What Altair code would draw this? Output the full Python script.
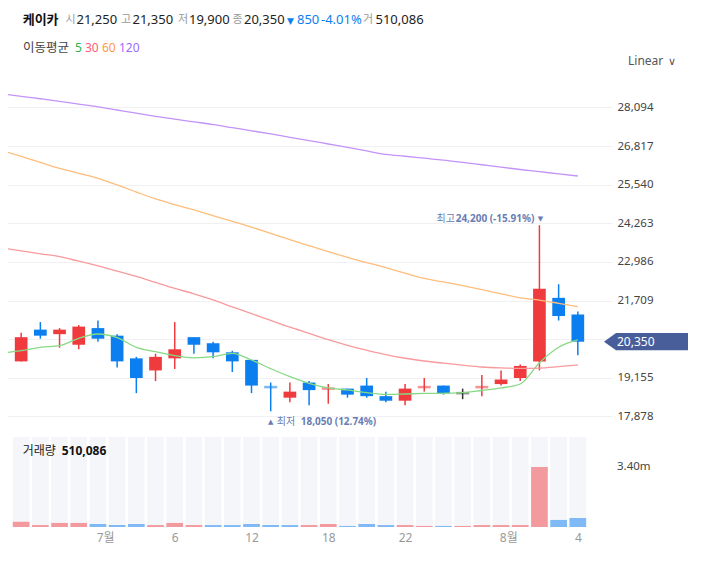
import altair as alt
import pandas as pd

# ---------------- data ----------------
name = "케이카"
dates = ["2022-06-24", "2022-06-27", "2022-06-28", "2022-06-29", "2022-06-30", "2022-07-01",
         "2022-07-04", "2022-07-05", "2022-07-06", "2022-07-07", "2022-07-08", "2022-07-11",
         "2022-07-12", "2022-07-13", "2022-07-14", "2022-07-15", "2022-07-18", "2022-07-19",
         "2022-07-20", "2022-07-21", "2022-07-22", "2022-07-25", "2022-07-26", "2022-07-27",
         "2022-07-28", "2022-07-29", "2022-08-01", "2022-08-02", "2022-08-03", "2022-08-04"]
opens = [19700, 20750, 20600, 20250, 20800, 20550, 19800, 19400, 19800, 20500,
         20300, 20000, 19750, 18850, 18500, 19000, 18800, 18800, 18900, 18550,
         18400, 18850, 18900, 18650, 18850, 18950, 19150, 19700, 21800, 21250]
highs = [20650, 21000, 20800, 20900, 21050, 20600, 19850, 19950, 21000, 20500,
         20350, 20050, 19750, 19000, 19000, 19050, 18950, 18800, 19150, 18700,
         18950, 19150, 18900, 18800, 19250, 19400, 19600, 24200, 22250, 21350]
lows = [19700, 20450, 20150, 20100, 20350, 19500, 18650, 19050, 19450, 19950,
        19800, 19350, 18650, 18050, 18350, 18250, 18300, 18500, 18500, 18350,
        18250, 18700, 18600, 18450, 18550, 18900, 19050, 19400, 21050, 19900]
closes = [20500, 20550, 20750, 20850, 20450, 19700, 19150, 19850, 20100, 20250,
          20000, 19700, 18900, 18850, 18700, 18750, 18800, 18600, 18550, 18400,
          18800, 18850, 18650, 18650, 18850, 19100, 19550, 22100, 21200, 20350]
volumes = [300000, 110000, 230000, 230000, 170000, 110000, 170000, 110000, 230000, 110000,
           110000, 110000, 170000, 110000, 110000, 110000, 170000, 60000, 170000, 110000,
           110000, 60000, 60000, 60000, 110000, 110000, 110000, 3400000, 400000, 510086]
vol_dir = ["up", "up", "up", "up", "down", "down", "down", "up", "up", "up",
           "down", "down", "down", "down", "down", "up", "up", "down", "down", "down",
           "up", "up", "down", "up", "up", "up", "up", "up", "down", "down"]

# moving averages, first value is the day before the visible window
ma_start_date = "2022-06-23"
ma5 = [19976, 20054, 20166, 20219, 20464, 20606, 20484, 20166, 20021, 19889, 19819,
       19855, 19968, 19746, 19459, 19194, 18976, 18821, 18755, 18665, 18606,
       18622, 18639, 18645, 18665, 18738, 18821, 18953, 19654, 20166, 20408]
ma30 = [23447, 23353, 23257, 23161, 23013, 22861, 22682, 22507, 22308, 22110, 21935,
        21730, 21502, 21280, 21055, 20831, 20626, 20417, 20232, 20070, 19922,
        19803, 19713, 19641, 19574, 19515, 19485, 19472, 19479, 19525, 19581]
ma60 = [26669, 26474, 26276, 26081, 25919, 25750, 25532, 25297, 25069, 24884, 24705,
        24517, 24328, 24137, 23932, 23723, 23525, 23330, 23138, 22966, 22798,
        22619, 22444, 22325, 22203, 22074, 21935, 21803, 21727, 21621, 21508]
ma120 = [28546, 28461, 28382, 28299, 28206, 28117, 28011, 27906, 27803, 27707, 27618,
         27529, 27426, 27324, 27221, 27109, 27000, 26887, 26775, 26656, 26543,
         26481, 26418, 26355, 26279, 26200, 26120, 26044, 25972, 25899, 25829]
ma_names = ["5", "30", "60", "120"]

price_ticks = [17878, 19155, 20432, 21709, 22986, 24263, 25540, 26817, 28094]
vol_tick_value = 3400000
vol_tick_label = "3.40m"
tick_dates = ["2022-07-01", "2022-07-06", "2022-07-12", "2022-07-18", "2022-07-22", "2022-08-01", "2022-08-04"]
tick_labels = ["7월", "6", "12", "18", "22", "8월", "4"]

# ---------------- style ----------------
FONT = "Noto Sans, Noto Sans CJK KR, sans-serif"
KFONT = "Noto Sans CJK KR, sans-serif"
SYM = "DejaVu Sans, sans-serif"
RED, BLUE, BLACK = "#ef3a3e", "#0b7ef0", "#333333"
VRED, VBLUE = "#f29a9d", "#80baf6"
MA_LINE = ["#88d984", "#f89a9d", "#ffbd7c", "#c493f7"]
MA_LEG = ["#2bb34a", "#ff5c7c", "#ff9a4a", "#9b6bff"]
ANN = "#6a7db3"
W, H = 604, 519

n = len(dates)


def direction(i):
    if closes[i] > opens[i]:
        return "up"
    if closes[i] < opens[i]:
        return "down"
    if i == 0 or closes[i] == closes[i - 1]:
        return "flat"
    return "up" if closes[i] > closes[i - 1] else "down"


cmap = {"up": RED, "down": BLUE, "flat": BLACK}
df = pd.DataFrame({"i": list(range(n)), "date": dates, "open": opens, "high": highs,
                   "low": lows, "close": closes, "vol": volumes})
df["col"] = [cmap[direction(i)] for i in range(n)]
df["vcol"] = [VRED if d == "up" else VBLUE for d in vol_dir]
df["btop"] = df[["open", "close"]].max(axis=1)
df["bbot"] = df[["open", "close"]].min(axis=1)
body_df = df[df.open != df.close]
doji_df = df[df.open == df.close]

ma_rows = []
for nm, vals, c in zip(ma_names, [ma5, ma30, ma60, ma120], MA_LINE):
    for k, v in enumerate(vals):
        ma_rows.append({"ma": nm, "i": k - 1, "v": v, "col": c})
ma_df = pd.DataFrame(ma_rows)

tick_idx = [dates.index(d) for d in tick_dates]
label_expr = "".join(f"datum.value == {ix} ? '{lb}' : " for ix, lb in zip(tick_idx, tick_labels)) + "''"
month_test = " || ".join(f"datum.value == {ix}" for ix, lb in zip(tick_idx, tick_labels) if "월" in lb)

xscale = alt.Scale(domain=[-0.425, 30.52], nice=False, zero=False)
pscale = alt.Scale(domain=[17448, 29300], range=[421.5, 63], nice=False, zero=False)
vscale = alt.Scale(domain=[0, 5100000], range=[519, 429], nice=False)

xaxis = alt.Axis(values=tick_idx, labelExpr=label_expr, grid=False, ticks=False, domain=False,
                 labelPadding=5, labelFontSize=12, labelColor="#999999", labelFont=FONT,
                 labelFlush=False, labelOverlap=False, title=None,
                 labelAlign={"condition": {"test": month_test, "value": "right"}, "value": "center"},
                 labelOffset={"condition": {"test": month_test, "value": -3}, "value": 0})
paxis = alt.Axis(orient="right", values=price_ticks, grid=True, gridColor="#f1f1f3", gridWidth=1,
                 ticks=False, domain=False, labelPadding=5, labelFontSize=11.5, labelColor="#444444",
                 labelFont=FONT, labelFlush=False, labelOverlap=False, title=None,
                 labelExpr="datum.value == 20432 ? '' : format(datum.value, ',')")


def X():
    return alt.X("i:Q", scale=xscale, axis=xaxis)


def PY(f):
    return alt.Y(f, scale=pscale, axis=paxis)


# ---------------- price panel ----------------
wicks = alt.Chart(df).mark_rule(strokeWidth=1.5).encode(
    x=X(), y=PY("low:Q"), y2="high:Q", color=alt.Color("col:N", scale=None))
bodies = alt.Chart(body_df).mark_bar(orient="vertical", size=12.7).encode(
    x=X(), y=PY("btop:Q"), y2="bbot:Q", color=alt.Color("col:N", scale=None))
dojis = alt.Chart(doji_df).mark_tick(orient="horizontal", size=13, thickness=2.5, opacity=0.55).encode(
    x=X(), y=PY("close:Q"), color=alt.Color("col:N", scale=None))
lines = alt.Chart(ma_df).mark_line(strokeWidth=1.3, clip=True, interpolate="monotone").encode(
    x=X(), y=PY("v:Q"), color=alt.Color("col:N", scale=None), detail="ma:N")

imax = highs.index(max(highs))
imin = lows.index(min(lows))
last = closes[-1]
hi_df = pd.DataFrame({"i": [imax], "p": [highs[imax]],
                      "t": [f"{highs[imax]:,} ({(last / highs[imax] - 1) * 100:.2f}%)"],
                      "t0": ["최고"], "s": ["▼"]})
lo_df = pd.DataFrame({"i": [imin], "p": [lows[imin]],
                      "t": [f"{lows[imin]:,} ({(last / lows[imin] - 1) * 100:.2f}%)"],
                      "t0": ["최저"], "s": ["▲"]})


def ann(d, field, align, dx, dy, size=10, weight="normal", font=FONT):
    return alt.Chart(d).mark_text(align=align, baseline="middle", dx=dx, dy=dy, fontSize=size,
                                  fontWeight=weight, color=ANN, font=font).encode(
        x=X(), y=PY("p:Q"), text=f"{field}:N")


hi_txt = ann(hi_df, "t", "right", -5, -6, weight="bold")
hi_txt0 = ann(hi_df, "t0", "left", -103, -6, font=KFONT)
hi_sym = ann(hi_df, "s", "center", 1, -6, size=7, font=SYM)
lo_sym = ann(lo_df, "s", "center", 0, 10.5, size=7, font=SYM)
lo_txt0 = ann(lo_df, "t0", "left", 6, 10.5, font=KFONT)
lo_txt = ann(lo_df, "t", "left", 30, 10.5, weight="bold")

tag_df = pd.DataFrame({"p": [last], "t": [f"{last:,}"]})
tag = alt.Chart(tag_df).mark_point(
    shape="M -1 0 L -0.714 -0.206 L 1 -0.206 L 1 0.206 L -0.714 0.206 Z",
    size=7056, filled=True, opacity=1, color="#485e9b").encode(x=alt.value(638), y=PY("p:Q"))
tag_txt = alt.Chart(tag_df).mark_text(align="left", baseline="middle", fontSize=12, color="white",
                                      font=FONT).encode(x=alt.value(609), y=PY("p:Q"), text="t:N")

price = alt.layer(wicks, bodies, dojis, lines, hi_txt, hi_txt0, hi_sym, lo_sym, lo_txt0, lo_txt,
                  tag, tag_txt)

# ---------------- volume panel ----------------
bg = alt.Chart(df).mark_rule(strokeWidth=16.7, color="#f5f6fa", strokeCap="butt").encode(
    x=X(), y=alt.value(429), y2=alt.value(519))
vbars = alt.Chart(df).mark_bar(orient="vertical", size=16.7).encode(
    x=X(), y=alt.Y("vol:Q", scale=vscale, axis=None), color=alt.Color("vcol:N", scale=None))
vlab_df = pd.DataFrame({"v": [vol_tick_value], "t": [vol_tick_label]})
vlab = alt.Chart(vlab_df).mark_text(align="left", baseline="middle", fontSize=11.5, color="#444444",
                                    font=FONT).encode(x=alt.value(609), y=alt.Y("v:Q", scale=vscale, axis=None), text="t:N")
vol = alt.layer(bg, vbars, vlab)


# ---------------- header texts ----------------
def txt(t, x, y, color, size=13, weight="normal", font=FONT):
    return alt.Chart(pd.DataFrame({"t": [t]})).mark_text(
        align="left", baseline="middle", fontSize=size, fontWeight=weight, color=color, font=font
    ).encode(x=alt.value(x), y=alt.value(y), text="t:N")


chg = closes[-1] - closes[-2]
pct = chg / closes[-2] * 100
arrow = "▼" if chg < 0 else "▲"
hcol = BLUE if chg < 0 else RED
G = "#9a9a9a"
D = "#222222"
texts = [
    txt(name, 14.7, 12, "#111111", size=13, weight="bold", font=KFONT),
    txt("시", 57.5, 12, G, size=11, font=KFONT), txt(f"{opens[-1]:,}", 68.5, 12, D),
    txt("고", 113, 12, G, size=11, font=KFONT), txt(f"{highs[-1]:,}", 124.5, 12, D),
    txt("저", 170, 12, G, size=11, font=KFONT), txt(f"{lows[-1]:,}", 181, 12, D),
    txt("종", 224.5, 12, G, size=11, font=KFONT), txt(f"{closes[-1]:,}", 236, 12, D),
    txt(arrow, 279, 12.5, hcol, size=9, font=SYM), txt(f"{abs(chg):,}", 289, 12, hcol),
    txt(f"{pct:.2f}%", 313, 12, hcol),
    txt("거", 355, 12, G, size=11, font=KFONT), txt(f"{volumes[-1]:,}", 367.5, 12, D),
    txt("이동평균", 15, 39.7, "#444444", size=12.5, font=KFONT),
    txt(ma_names[0], 67, 39.7, MA_LEG[0], size=12), txt(ma_names[1], 77, 39.7, MA_LEG[1], size=12),
    txt(ma_names[2], 94, 39.7, MA_LEG[2], size=12), txt(ma_names[3], 111, 39.7, MA_LEG[3], size=12),
    txt("Linear", 620, 53, "#555555", size=12), txt("∨", 660, 54, "#555555", size=11, font=SYM),
    txt("거래량", 14.7, 442.7, "#222222", size=12, font=KFONT),
    txt(f"{volumes[-1]:,}", 53.7, 442.7, "#111111", size=12, weight="bold"),
]

chart = alt.layer(price, vol, *texts).resolve_scale(y="independent").properties(
    width=W, height=H,
    autosize=alt.AutoSizeParams(type="none"),
    padding={"left": 0, "top": 0, "right": 87, "bottom": 34},
    background="white",
).configure_view(stroke=None)

chart.save("out.html", embed_options={"renderer": "svg", "actions": False})
